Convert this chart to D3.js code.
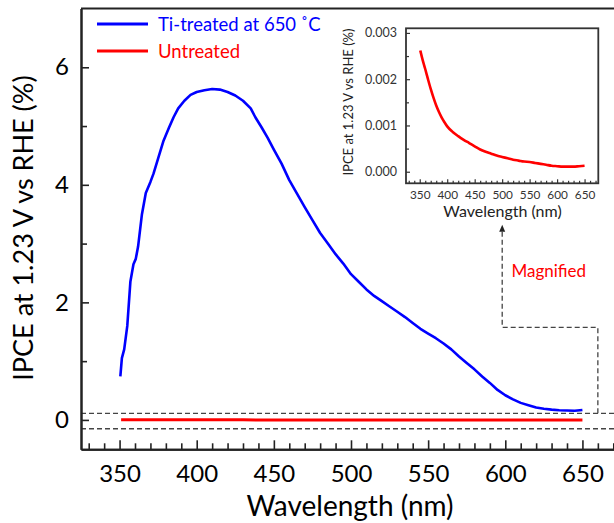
<!DOCTYPE html>
<html><head><meta charset="utf-8">
<script src="https://cdn.jsdelivr.net/npm/d3@7"></script>
<style>body{margin:0;background:#fff} svg{display:block}</style>
</head><body><svg id="c" width="614" height="523"></svg>
<script>
// ---- data ----
const tiWavelength = [350.5,351.5,353,355,357,359,360.5,362,364.5,367,370,372,375,378.5,382,385,388,392,396,400,405,410,415,420,425,430,435,438,442,446,450,455,460,465,470,475,480,485,490,495,500,505,510,515,520,525,530,535,540,545,550,555,560,565,570,575,580,585,590,595,600,605,610,615,620,625,630,635,640,645,650];
const tiIPCE = [0.74,1.05,1.2,1.6,2.35,2.65,2.74,2.95,3.5,3.86,4.05,4.19,4.45,4.75,4.97,5.15,5.3,5.43,5.53,5.58,5.61,5.63,5.62,5.58,5.52,5.43,5.3,5.15,4.98,4.8,4.6,4.36,4.08,3.85,3.62,3.4,3.18,3.0,2.82,2.66,2.48,2.35,2.22,2.11,2.02,1.93,1.84,1.75,1.65,1.55,1.47,1.39,1.3,1.2,1.08,0.97,0.86,0.74,0.63,0.51,0.42,0.35,0.29,0.25,0.21,0.19,0.175,0.165,0.16,0.155,0.17];
const untreatedWavelength = [351,355,360,365,370,375,380,385,390,395,400,410,420,430,440,450,460,470,480,490,500,510,520,530,540,550,560,570,580,590,600,610,620,630,640,650];
const untreatedIPCE = [0.00262,0.00243,0.00222,0.002,0.00179,0.0016,0.00143,0.00129,0.00117,0.00107,0.00098,0.00086,0.00077,0.00069,0.00062,0.00055,0.00048,0.00043,0.00039,0.00035,0.00032,0.00029,0.00026,0.00024,0.00022,0.00021,0.00019,0.00017,0.00015,0.00013,0.00012,0.00011,0.00011,0.00011,0.00012,0.00013];
const xTickValues = [350,400,450,500,550,600,650];
const yTickValues = [0,2,4,6];
const yMinorTickValues = [1,3,5];
const insetYTickValues = [0,0.001,0.002,0.003];
const insetYMinorTickValues = [0.0005,0.0015,0.0025];
const seriesNames = ["Ti-treated at 650 ˚C","Untreated"];
const seriesColors = ["#0000ff","#ff0000"];
const magnifyBand = [-0.15,0.11];
const xTitle = "Wavelength (nm)";
const yTitle = "IPCE at 1.23 V vs RHE (%)";
const annotationText = "Magnified";

// ---- drawing ----
const FONT = "Lato, 'Open Sans', sans-serif";
const AX = "#222";
const svg = d3.select("#c").style("font-family", FONT);

const x = d3.scaleLinear().domain([325,675]).range([81,621]);
const y = d3.scaleLinear().domain([-0.5,7]).range([449.3,8.5]);

const tiData = tiWavelength.map((w,i)=>[w,tiIPCE[i]]);
const unData = untreatedWavelength.map((w,i)=>[w,untreatedIPCE[i]]);

// dashed magnify band
svg.selectAll("line.band").data(magnifyBand).join("line")
  .attr("x1", x(325)).attr("x2", x(675))
  .attr("y1", d=>y(d)).attr("y2", d=>y(d))
  .attr("stroke","#444").attr("stroke-width",1.3).attr("stroke-dasharray","5,3");

// annotation path (in data coordinates)
const annPts = [[598,3.2],[598,1.575],[660,1.575],[660,magnifyBand[1]]];
svg.append("path")
  .attr("d", d3.line().x(d=>x(d[0])).y(d=>y(d[1]))(annPts))
  .attr("fill","none").attr("stroke","#444").attr("stroke-width",1.3).attr("stroke-dasharray","5,3");
const tipX = x(598), tipY = y(3.32);
svg.append("path").attr("d", `M${tipX},${tipY} L${tipX-3},${tipY+7} L${tipX+3},${tipY+7} Z`).attr("fill","#222");
svg.append("text").attr("x", x(604)).attr("y", y(2.43)).attr("font-size",17).attr("fill","#ff0000").text(annotationText);

// series
const line = d3.line().x(d=>x(d[0])).y(d=>y(d[1]));
svg.append("path").attr("d", line(unData)).attr("fill","none").attr("stroke",seriesColors[1]).attr("stroke-width",3);
svg.append("path").attr("d", line(tiData)).attr("fill","none").attr("stroke",seriesColors[0]).attr("stroke-width",2.6).attr("stroke-linejoin","round");

// axes
const gx = svg.append("g").attr("transform",`translate(0,${y(-0.5)})`)
  .call(d3.axisBottom(x).tickValues(xTickValues).tickSize(-9).tickSizeOuter(0).tickPadding(16));
const gxm = svg.append("g").attr("transform",`translate(0,${y(-0.5)})`)
  .call(d3.axisBottom(x).tickValues(d3.range(330,675,10).filter(v=>v%50!==0)).tickSize(-6).tickSizeOuter(0).tickFormat(""));
const gy = svg.append("g").attr("transform",`translate(${x(325)},0)`)
  .call(d3.axisLeft(y).tickValues(yTickValues).tickSize(-8).tickSizeOuter(0).tickPadding(12));
const gym = svg.append("g").attr("transform",`translate(${x(325)},0)`)
  .call(d3.axisLeft(y).tickValues(yMinorTickValues).tickSize(-6).tickSizeOuter(0).tickFormat(""));
[gx,gxm,gy,gym].forEach(g=>{
  g.selectAll(".domain").attr("stroke",AX).attr("stroke-width",2);
  g.selectAll(".tick line").attr("stroke",AX).attr("stroke-width",1.6);
  g.selectAll(".tick text").attr("font-size",24).attr("font-family",FONT).attr("fill","#000");
});
svg.append("line").attr("x1",x(325)).attr("x2",x(675)).attr("y1",y(7)).attr("y2",y(7)).attr("stroke",AX).attr("stroke-width",2);

// titles
svg.append("text").attr("x",350).attr("y",516).attr("text-anchor","middle").attr("font-size",28).text(xTitle);
svg.append("text").attr("transform","translate(33,228) rotate(-90)").attr("text-anchor","middle").attr("font-size",27).text(yTitle);

// legend
seriesNames.forEach((n,i)=>{
  const ly = 24 + i*27;
  svg.append("line").attr("x1",97).attr("x2",148).attr("y1",ly).attr("y2",ly).attr("stroke",seriesColors[i]).attr("stroke-width",3);
  svg.append("text").attr("x",158).attr("y",ly+6.5).attr("font-size",18.5).attr("fill",seriesColors[i]).text(n);
});

// inset
const ix = d3.scaleLinear().domain([325,675]).range([406,598.3]);
const iy = d3.scaleLinear().domain([-0.00025,0.0031]).range([183.3,28.3]);
const inset = svg.append("g");
inset.append("rect").attr("x",ix(325)).attr("y",iy(0.0031)).attr("width",ix(675)-ix(325)).attr("height",iy(-0.00025)-iy(0.0031))
  .attr("fill","#fff").attr("stroke","#333").attr("stroke-width",1.8);
inset.append("path").attr("d", d3.line().curve(d3.curveMonotoneX).x(d=>ix(d[0])).y(d=>iy(d[1]))(unData))
  .attr("fill","none").attr("stroke",seriesColors[1]).attr("stroke-width",2.6);
const igx = inset.append("g").attr("transform",`translate(0,${iy(-0.00025)})`)
  .call(d3.axisBottom(ix).tickValues(xTickValues).tickSize(-4).tickSizeOuter(0).tickPadding(7));
const igxm = inset.append("g").attr("transform",`translate(0,${iy(-0.00025)})`)
  .call(d3.axisBottom(ix).tickValues(d3.range(330,675,10).filter(v=>v%50!==0)).tickSize(-2.5).tickSizeOuter(0).tickFormat(""));
const igy = inset.append("g").attr("transform",`translate(${ix(325)},0)`)
  .call(d3.axisLeft(iy).tickValues(insetYTickValues).tickSize(-4).tickSizeOuter(0).tickPadding(9).tickFormat(d3.format(".3f")));
const igym = inset.append("g").attr("transform",`translate(${ix(325)},0)`)
  .call(d3.axisLeft(iy).tickValues(insetYMinorTickValues).tickSize(-3).tickSizeOuter(0).tickFormat(""));
[igx,igxm,igy,igym].forEach(g=>{
  g.selectAll(".domain").remove();
  g.selectAll(".tick line").attr("stroke","#333").attr("stroke-width",1.2);
  g.selectAll(".tick text").attr("font-size",12.5).attr("font-family",FONT).attr("fill","#333");
});
igx.selectAll(".tick text").attr("font-size",11.8);
inset.append("text").attr("x",502.5).attr("y",217).attr("text-anchor","middle").attr("font-size",16).attr("fill","#222").text(xTitle);
inset.append("text").attr("transform","translate(353,102) rotate(-90)").attr("text-anchor","middle").attr("font-size",13).attr("fill","#222").text(yTitle);
</script></body></html>
